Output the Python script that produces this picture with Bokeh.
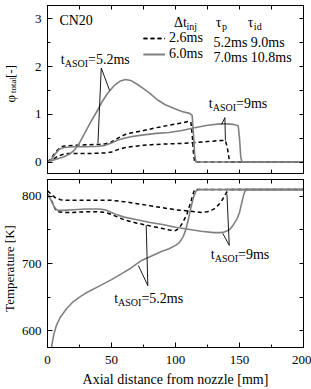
import math
from bokeh.plotting import figure
from bokeh.models import (Range1d, LinearAxis, Label, Legend, LegendItem,
                          FixedTicker)
from bokeh.layouts import column, row
from bokeh.embed import file_html
from bokeh.resources import INLINE

FONT = "Liberation Serif"
GRAY = "#808080"
DASH = "4 3"

# ---------------- equivalence ratio phi_total [-] ----------------
# dashed: injection 2.6 ms, solid: injection 6.0 ms
phi_dash_52_x = [0, 3, 6, 9, 12, 20, 30, 40, 45, 50, 55, 60, 65, 75, 85, 95,
                 105, 110, 112, 113, 114, 115, 200]
phi_dash_52_y = [0, 0.08, 0.2, 0.28, 0.33, 0.35, 0.36, 0.37, 0.38, 0.42, 0.5,
                 0.57, 0.61, 0.66, 0.72, 0.77, 0.82, 0.85, 0.84, 0.6, 0.2, 0, 0]

phi_dash_9_x = [0, 4, 8, 12, 16, 25, 35, 45, 50, 55, 60, 65, 75, 85, 95, 105,
                115, 125, 135, 139, 140.5, 142, 143, 200]
phi_dash_9_y = [0, 0.05, 0.12, 0.16, 0.18, 0.18, 0.18, 0.19, 0.21, 0.26, 0.3,
                0.32, 0.35, 0.37, 0.38, 0.39, 0.41, 0.43, 0.45, 0.45, 0.3,
                0.05, 0, 0]

phi_solid_52_x = [0, 3, 8, 13, 18, 21, 25, 29, 34, 39, 43, 47, 52, 57, 61, 65,
                  70, 75, 80, 86, 92, 99, 105, 111, 113, 114, 115, 116, 200]
phi_solid_52_y = [0, 0.03, 0.07, 0.11, 0.18, 0.25, 0.4, 0.6, 0.85, 1.08, 1.28,
                  1.44, 1.6, 1.7, 1.73, 1.71, 1.63, 1.54, 1.44, 1.3, 1.2,
                  1.12, 1.06, 1.02, 0.98, 0.6, 0.15, 0, 0]

phi_solid_9_x = [0, 3, 6, 9, 12, 20, 30, 40, 45, 50, 55, 60, 65, 75, 85, 95,
                 105, 115, 125, 135, 140, 145, 149, 150, 151, 152, 200]
phi_solid_9_y = [0, 0.06, 0.17, 0.26, 0.3, 0.32, 0.32, 0.33, 0.35, 0.4, 0.46,
                 0.5, 0.53, 0.57, 0.6, 0.62, 0.66, 0.72, 0.77, 0.8, 0.8, 0.79,
                 0.76, 0.5, 0.1, 0, 0]

# ---------------- temperature [K] ----------------
t_dash_52_x = [0, 2, 4, 6, 8, 12, 20, 30, 40, 45, 50, 55, 60, 70, 80, 90, 95,
               100, 103, 106, 109, 112, 114, 115, 200]
t_dash_52_y = [803, 798, 790, 781, 777, 776, 776, 777, 777, 776, 773, 769, 765,
               760, 756, 752, 750, 749, 753, 762, 774, 792, 805, 810, 810]

t_dash_9_x = [0, 3, 6, 10, 15, 25, 35, 45, 50, 60, 70, 80, 90, 100, 110, 120,
              125, 130, 134, 137, 139, 141, 142, 200]
t_dash_9_y = [808, 803, 798, 795, 794, 794, 794, 794, 794, 792, 789, 786, 783,
              780, 778, 776, 777, 781, 788, 796, 803, 809, 810, 810]

t_solid_52_x = [2.5, 3.5, 5, 7, 10, 15, 20, 25, 30, 40, 50, 58, 65, 73, 80, 89,
                95, 100, 103, 106, 108, 110, 112, 114, 116, 118, 200]
t_solid_52_y = [560, 580, 595, 608, 620, 633, 643, 650, 656, 666, 676, 685,
                693, 704, 710, 718, 722, 727, 731, 740, 750, 765, 783, 798,
                808, 810, 810]

t_solid_9_x = [0, 2, 4, 6, 8, 12, 20, 30, 40, 45, 50, 55, 60, 70, 80, 90, 100,
               110, 120, 130, 135, 138, 141, 143, 145, 148, 150, 152, 153.5,
               155, 200]
t_solid_9_y = [803, 797, 789, 782, 779, 779, 780, 781, 781, 780, 776, 772, 769,
               765, 761, 758, 754, 751, 748, 746, 746, 747, 749, 752, 757, 766,
               776, 792, 804, 810, 810]

# pointer lines for the t_ASOI callouts
ptr_phi_52_x, ptr_phi_52_y = [48.5, 42, 39.4], [1.5, 1.97, 0.39]
ptr_phi_9_x, ptr_phi_9_y = [136, 138.6, 139], [0.79, 0.93, 0.45]
ptr_t_52_x, ptr_t_52_y = [71, 78.4, 77.1], [697, 667, 757]
ptr_t_9_x, ptr_t_9_y = [136.9, 142, 140.2], [745, 727, 803]

x_ticks = [0, 50, 100, 150, 200]
x_minor = [25, 75, 125, 175]

# approximate Times-style advance widths (em) for placing sub-scripts
W = {'.': 0.25, '=': 0.564, 'm': 0.778, 's': 0.389, 't': 0.278, 'A': 0.722,
     'S': 0.556, 'O': 0.722, 'I': 0.333, 'Δ': 0.612, 'τ': 0.44, 'i': 0.278,
     'n': 0.5, 'j': 0.278, 'p': 0.5, 'd': 0.5, 'φ': 0.52, 'o': 0.5,
     'a': 0.444, 'l': 0.278, ' ': 0.25, '[': 0.333, '-': 0.333, ']': 0.333}


def text_width(s, size):
    return sum(W.get(c, 0.5) for c in s) * size


def label(fig, x, y, text, size=14, **kw):
    kw.setdefault("text_baseline", "middle")
    kw.setdefault("text_align", "left")
    fig.add_layout(Label(x=x, y=y, text=text, text_font=FONT,
                         text_font_size=f"{size}px", text_color="black",
                         **kw))


def rich_label(fig, x, y, parts, size=14, sub_size=10, drop=4):
    off = 0.0
    for txt, is_sub in parts:
        fs = sub_size if is_sub else size
        label(fig, x, y, txt, fs, x_offset=off,
              y_offset=-drop if is_sub else 0)
        off += text_width(txt, fs)


def style_axis(ax, labels=True, standoff=6):
    ax.axis_line_color = "black"
    ax.major_tick_in = 5
    ax.major_tick_out = 0
    ax.minor_tick_in = 4 if not labels else 3
    ax.minor_tick_out = 0
    ax.major_tick_line_color = "black"
    ax.minor_tick_line_color = "black"
    if labels:
        ax.major_label_text_font = FONT
        ax.major_label_text_font_size = "13px"
        ax.major_label_text_color = "black"
        ax.major_label_standoff = standoff


def make_fig(y0, y1, height, border_top, border_bottom, yticks, yminor,
             xlabels):
    p = figure(width=293, height=height, x_range=Range1d(0, 200),
               y_range=Range1d(y0, y1), x_axis_location=None,
               y_axis_location=None, min_border_left=28, min_border_right=8,
               min_border_top=border_top, min_border_bottom=border_bottom,
               output_backend="svg", toolbar_location=None)
    p.grid.visible = False
    p.outline_line_color = "black"
    p.background_fill_color = "white"
    p.border_fill_color = "white"
    # labelled axes carry major + minor ticks; mirrored sides only tick marks
    xt = FixedTicker(ticks=x_ticks, minor_ticks=x_minor)
    xt_bare = FixedTicker(ticks=[], minor_ticks=sorted(x_ticks + x_minor))
    yt = FixedTicker(ticks=yticks, minor_ticks=yminor)
    yt_bare = FixedTicker(ticks=[], minor_ticks=sorted(yticks + yminor))
    if xlabels:
        ax = LinearAxis(ticker=xt)
        style_axis(ax, True, standoff=8)
    else:
        ax = LinearAxis(ticker=xt_bare)
        style_axis(ax, False)
    p.add_layout(ax, "below")
    ax = LinearAxis(ticker=xt_bare)
    style_axis(ax, False)
    p.add_layout(ax, "above")
    ax = LinearAxis(ticker=yt)
    style_axis(ax, True)
    p.add_layout(ax, "left")
    ax = LinearAxis(ticker=yt_bare)
    style_axis(ax, False)
    p.add_layout(ax, "right")
    return p


# ---------------- top panel ----------------
top = make_fig(-0.24, 3.28, 176, 5, 3, [0, 1, 2, 3], [0.5, 1.5, 2.5], False)

r_d52 = top.line(phi_dash_52_x, phi_dash_52_y, line_color="black",
                 line_width=1.5, line_dash=DASH)
r_d9 = top.line(phi_dash_9_x, phi_dash_9_y, line_color="black",
                line_width=1.5, line_dash=DASH)
r_s52 = top.line(phi_solid_52_x, phi_solid_52_y, line_color=GRAY,
                 line_width=1.6)
r_s9 = top.line(phi_solid_9_x, phi_solid_9_y, line_color=GRAY, line_width=1.6)
top.line(ptr_phi_52_x, ptr_phi_52_y, line_color="black", line_width=0.9)
top.line(ptr_phi_9_x, ptr_phi_9_y, line_color="black", line_width=0.9)

legend = Legend(items=[LegendItem(label="2.6ms", renderers=[r_d52, r_d9]),
                       LegendItem(label="6.0ms", renderers=[r_s52, r_s9])],
                location=(96, 111), glyph_width=22, glyph_height=14,
                label_height=14, label_width=0, label_standoff=4, spacing=0,
                padding=0, margin=0, border_line_alpha=0,
                background_fill_alpha=0, label_text_font=FONT,
                label_text_font_size="14px", label_text_color="black")
top.add_layout(legend)

label(top, 9.3, 2.97, "CN20")
rich_label(top, 98.8, 2.93, [("Δt", False), ("inj", True)])
rich_label(top, 131.5, 2.93, [("τ", False), ("p", True)])
rich_label(top, 156.4, 2.93, [("τ", False), ("id", True)])
for xx, yy, s in ((129.7, 2.51, "5.2ms"), (158.8, 2.51, "9.0ms"),
                  (129.7, 2.20, "7.0ms"), (158.8, 2.20, "10.8ms")):
    label(top, xx, yy, s)
rich_label(top, 10.4, 2.15, [("t", False), ("ASOI", True), ("=5.2ms", False)])
rich_label(top, 126, 1.23, [("t", False), ("ASOI", True), ("=9ms", False)])

# ---------------- bottom panel ----------------
bot = make_fig(575, 825, 213, 3, 42, [600, 700, 800], [650, 750], True)
xa = bot.below[0]
xa.axis_label = "Axial distance from nozzle [mm]"
xa.axis_label_text_font = FONT
xa.axis_label_text_font_size = "14px"
xa.axis_label_text_font_style = "normal"
xa.axis_label_text_color = "black"
xa.axis_label_standoff = 5

bot.line(t_dash_52_x, t_dash_52_y, line_color="black", line_width=1.5,
         line_dash=DASH)
bot.line(t_dash_9_x, t_dash_9_y, line_color="black", line_width=1.5,
         line_dash=DASH)
bot.line(t_solid_52_x, t_solid_52_y, line_color=GRAY, line_width=1.6)
bot.line(t_solid_9_x, t_solid_9_y, line_color=GRAY, line_width=1.6)
bot.line(ptr_t_52_x, ptr_t_52_y, line_color="black", line_width=0.9)
bot.line(ptr_t_9_x, ptr_t_9_y, line_color="black", line_width=0.9)

rich_label(bot, 52.1, 647.8, [("t", False), ("ASOI", True), ("=5.2ms", False)])
rich_label(bot, 127.6, 713.4, [("t", False), ("ASOI", True), ("=9ms", False)])

# ---------------- strip holding the rotated y titles ----------------
side = figure(width=18, height=389, x_range=Range1d(0, 18),
              y_range=Range1d(389, 0), x_axis_location=None,
              y_axis_location=None, min_border=0, output_backend="svg",
              toolbar_location=None)
side.grid.visible = False
side.outline_line_color = None
ang = math.pi / 2
label(side, 9.5, 102, "φ", 13, angle=ang)
label(side, 9.5, 92.5, "total", 9, angle=ang, x_offset=3)
label(side, 9.5, 77.5, "[-]", 13, angle=ang)
label(side, 9, 268, "Temperature [K]", 13, angle=ang, text_align="center")

layout = row(side, column(top, bot, spacing=0), spacing=0)
open("out.html", "w").write(file_html(layout, INLINE))
